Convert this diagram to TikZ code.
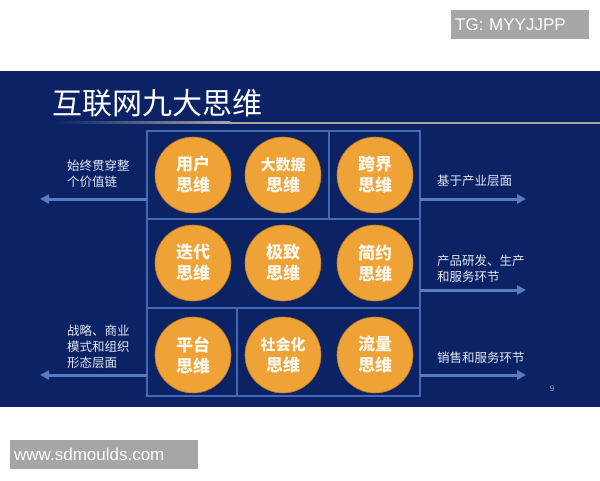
\documentclass[tikz,border=0pt]{standalone}
\usepackage{fontspec}
\setmainfont{Liberation Sans}
\newfontfamily\cjk{Noto Sans CJK SC}
\usetikzlibrary{arrows.meta,positioning}
\definecolor{panelblue}{HTML}{0B2265}
\definecolor{gridblue}{HTML}{4669B6}
\definecolor{arrowblue}{HTML}{5A7BC0}
\definecolor{dotorange}{HTML}{EFA236}
\definecolor{tagbg}{HTML}{A6A6A6}
\definecolor{paletext}{HTML}{E2E7F2}

\begin{document}
\begin{tikzpicture}[x=1pt,y=-1pt,
	idea/.style={circle,fill=dotorange,draw=dotorange!75!black,line width=0.6pt,minimum size=76pt,inner sep=0pt,align=center,text=white!92!dotorange,font=\cjk\bfseries\fontsize{17}{21}\selectfont},
	side/.style={anchor=north west,inner sep=0pt,align=left,text=paletext,font=\cjk\fontsize{12.5}{16}\selectfont},
	flow/.style={draw=arrowblue,line width=3pt,-{Triangle[length=9pt,width=9pt]}},
	tagbox/.style={fill=tagbg,text=white,inner sep=0pt,anchor=north west,align=left,minimum height=29pt,font=\fontsize{17}{17}\selectfont}]

	\useasboundingbox (0,0) rectangle (600,480);
	\fill[panelblue] (0,71) rectangle (600,407);

	\node[tagbox,minimum width=138pt,text width=130pt] (tg) at (451,10) {TG: MYYJJPP};
	\node[tagbox,minimum width=188pt,text width=180pt] (site) at (10,440) {www.sdmoulds.com};

	\node[anchor=base west,inner sep=0pt,text=white,font=\cjk\fontsize{30}{30}\selectfont] (title) at (52,114) {互联网九大思维};
	\shade[left color=panelblue,right color=gray!70!white] (55,121.5) rectangle (230,123.5);
	\fill[gray!70!white] (230,121.5) rectangle (600,123.5);

	% grid of boxes
	\draw[gridblue,line width=1.5pt] (147,131) rectangle (420,396);
	\draw[gridblue,line width=1.5pt] (147,219) -- (420,219) (147,308) -- (420,308)
		(329,131) -- (329,219) (237,308) -- (237,396);

	\foreach \px/\py/\t [count=\n] in {193/175/{用户\\思维},283/175/{{\fontsize{15}{21}\selectfont 大数据}\\思维},375/175/{跨界\\思维},
		193/263/{迭代\\思维},283/263/{极致\\思维},375/263/{简约\\思维},
		193/355/{平台\\思维},283/355/{{\fontsize{15}{21}\selectfont 社会化}\\思维},375/355/{流量\\思维}}
		\node[idea] (C\n) at (\px,\py) {\t};

	% arrows out of the grid
	\coordinate (L1) at (147,199); \coordinate (L1e) at (40,199);
	\coordinate (L2) at (147,375); \coordinate (L2e) at (40,375);
	\foreach \y [count=\n] in {199,290,375} {
		\coordinate (R\n) at (420,\y);
		\coordinate (R\n e) at (526,\y);
	}
	\draw[flow] (L1) -- (L1e);
	\draw[flow] (L2) -- (L2e);
	\foreach \n in {1,2,3}
		\draw[flow] (R\n) -- (R\n e);

	\node[side] (Ltop) at (67,160) {始终贯穿整\\个价值链};
	\node[side] (Lbot) at (67,325) {战略、商业\\模式和组织\\形态层面};
	\node[side] (Rtop) at (437,175) {基于产业层面};
	\node[side] (Rmid) at (437,255) {产品研发、生产\\和服务环节};
	\node[side] (Rbot) at (437,352) {销售和服务环节};

	\node[text=gray!80!white,font=\fontsize{8}{8}\selectfont,inner sep=0pt] (page) at (552,389) {9};
\end{tikzpicture}
\end{document}
